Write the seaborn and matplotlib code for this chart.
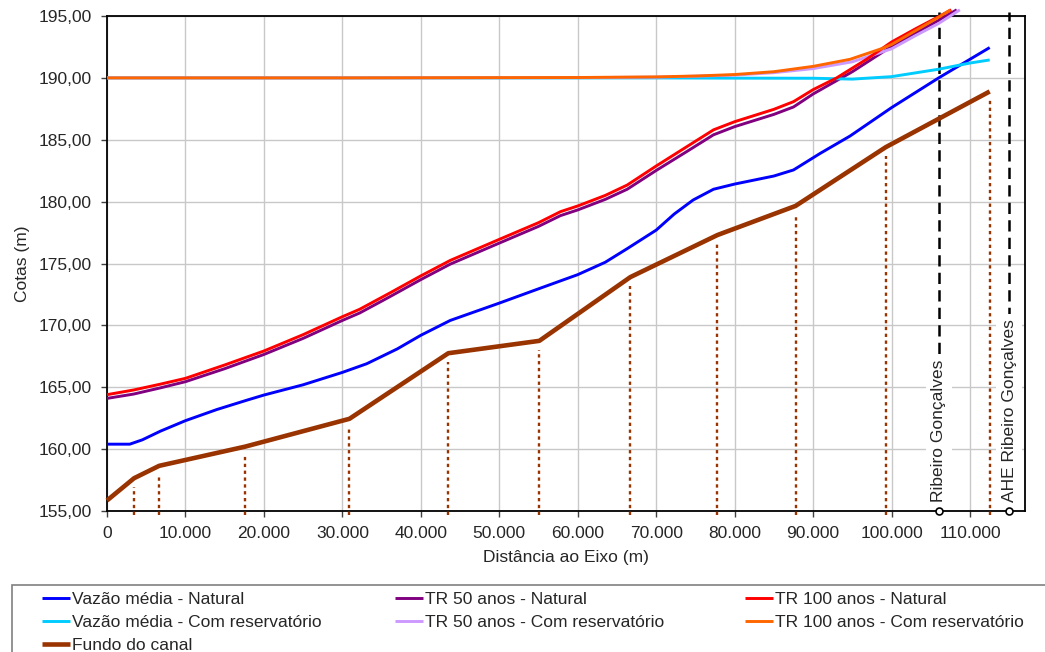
import matplotlib
matplotlib.use("Agg")
import matplotlib.pyplot as plt
import seaborn as sns
import numpy as np
import pandas as pd
from matplotlib.ticker import FuncFormatter, MultipleLocator
from matplotlib.patches import Rectangle

# ---------------- data ----------------
x_vazao_nat = [0, 2900, 4500, 6800, 10000, 14000, 17800, 20000, 25000, 30000, 33100, 37000,
               40000, 43750, 50000, 55200, 60000, 63500, 66300, 70000, 72300, 74700, 77300,
               80000, 85000, 87500, 90900, 94700, 100000, 106000, 112500]
y_vazao_nat = [160.4, 160.4, 160.75, 161.45, 162.3, 163.2, 163.95, 164.37, 165.2, 166.2, 166.9, 168.1,
               169.2, 170.4, 171.8, 173.0, 174.1, 175.1, 176.2, 177.7, 179.0, 180.13, 181.0,
               181.42, 182.07, 182.56, 183.9, 185.3, 187.6, 190.0, 192.45]

x_tr100_nat = [0, 3400, 6800, 10000, 15000, 20000, 25000, 30000, 32200, 36000, 40000, 43750,
               50000, 55000, 57800, 60000, 63500, 66300, 70000, 73900, 77300, 80000, 85000, 87500,
               90000, 93000, 96800, 100000, 103000, 106000, 107600]
y_tr100_nat = [164.4, 164.78, 165.25, 165.72, 166.8, 167.93, 169.25, 170.7, 171.3, 172.6, 174.0, 175.25,
               176.95, 178.3, 179.19, 179.65, 180.5, 181.34, 182.88, 184.44, 185.8, 186.46, 187.46, 188.08,
               189.05, 190.0, 191.5, 192.9, 193.95, 194.95, 195.5]

x_tr50_nat = [0, 3400, 6800, 10000, 15000, 20000, 25000, 30000, 32200, 36000, 40000, 43750,
              50000, 55000, 57800, 60000, 63500, 66300, 70000, 73900, 77300, 80000, 85000, 87500,
              90000, 95000, 100000, 103000, 106000, 108300]
y_tr50_nat = [164.1, 164.45, 164.95, 165.45, 166.5, 167.65, 168.95, 170.4, 171.0, 172.3, 173.7, 174.95,
              176.65, 178.0, 178.87, 179.33, 180.18, 181.0, 182.52, 184.05, 185.4, 186.06, 187.05, 187.65,
              188.7, 190.5, 192.55, 193.6, 194.65, 195.5]

x_vazao_res = [0, 30000, 60000, 70000, 80000, 90000, 95000, 100000, 106000, 110000, 112500]
y_vazao_res = [190.0, 190.0, 190.0, 190.0, 189.98, 189.97, 189.9, 190.1, 190.7, 191.2, 191.45]

x_tr50_res = [0, 30000, 60000, 70000, 80000, 85000, 90000, 95000, 100000, 103000, 106000, 108700]
y_tr50_res = [190.0, 190.0, 190.02, 190.06, 190.22, 190.42, 190.75, 191.3, 192.35, 193.4, 194.4, 195.5]

x_tr100_res = [0, 30000, 60000, 70000, 75000, 80000, 85000, 90000, 94700, 98900, 100000, 103000,
               106000, 107500]
y_tr100_res = [190.0, 190.0, 190.03, 190.08, 190.15, 190.27, 190.5, 190.93, 191.5, 192.4, 192.7, 193.8,
               194.9, 195.5]

x_fundo = [0, 3450, 6650, 17600, 30900, 43500, 55100, 66700, 77800, 87750, 99250, 112500]
y_fundo = [155.85, 157.65, 158.65, 160.2, 162.45, 167.75, 168.75, 173.9, 177.3, 179.65, 184.4, 188.9]

marker_x = [106000, 115000]
marker_labels = ["Ribeiro Gonçalves", "AHE Ribeiro Gonçalves"]

series_labels = ["Vazão média - Natural", "TR 50 anos - Natural", "TR 100 anos - Natural",
                 "Vazão média - Com reservatório", "TR 50 anos - Com reservatório",
                 "TR 100 anos - Com reservatório", "Fundo do canal"]
colors = ["#0000FF", "#800080", "#FF0000", "#00CCFF", "#CC99FF", "#FF6600", "#993300"]

# ---------------- style ----------------
sns.set_style("white")
plt.rcParams["font.family"] = ["Liberation Sans", "DejaVu Sans"]
FS = 12.5

fig = plt.figure(figsize=(10.45, 6.52), dpi=100)
ax = fig.add_axes([107 / 1045, 1 - 511 / 652, (1025 - 107) / 1045, (511 - 16) / 652])

xs = [x_vazao_nat, x_tr50_nat, x_tr100_nat, x_vazao_res, x_tr50_res, x_tr100_res, x_fundo]
ys = [y_vazao_nat, y_tr50_nat, y_tr100_nat, y_vazao_res, y_tr50_res, y_tr100_res, y_fundo]
widths = [2.1, 2.1, 2.1, 2.1, 2.1, 2.1, 3.3]
zorders = [4, 4, 4.2, 4, 4.1, 4.3, 5]

handles = []
for xv, yv, lab, c, w, z in zip(xs, ys, series_labels, colors, widths, zorders):
    df = pd.DataFrame({"x": xv, "y": yv})
    n0 = len(ax.lines)
    sns.lineplot(data=df, x="x", y="y", color=c, linewidth=w, ax=ax, sort=False,
                 estimator=None, label=lab, zorder=z)
    ln = ax.lines[n0]
    ln.set_clip_on(False)
    ln.set_solid_capstyle("butt")
    handles.append(ln)
if ax.get_legend() is not None:
    ax.get_legend().remove()

# dotted drop lines under the channel bottom points
for xf, yf in zip(x_fundo[1:], y_fundo[1:]):
    ax.vlines(xf, 154.7, yf - 0.7, colors="#993300", linestyles=(0, (1.4, 1.5)),
              linewidth=1.7, clip_on=False, zorder=3)

# vertical dashed reference lines
for mx, ml in zip(marker_x, marker_labels):
    ax.vlines(mx, 155.0, 195.35, colors="black", linestyles=(0, (4.5, 2.5)),
              linewidth=1.8, clip_on=False, zorder=3.5)
    ax.plot([mx], [155.0], marker="o", ms=5, mfc="white", mec="black", mew=1.2,
            clip_on=False, zorder=6)
    ax.text(mx, 155.7, ml, rotation=90, ha="center", va="bottom", fontsize=FS,
            zorder=3.6, bbox=dict(facecolor="white", edgecolor="none", pad=4))

ax.set_xlim(0, 117000)
ax.set_ylim(155, 195)
ax.xaxis.set_major_locator(MultipleLocator(10000))
ax.yaxis.set_major_locator(MultipleLocator(5))
ax.set_xticks(np.arange(0, 110001, 10000))
ax.xaxis.set_major_formatter(FuncFormatter(lambda v, p: f"{int(round(v)):,}".replace(",", ".")))
ax.yaxis.set_major_formatter(FuncFormatter(lambda v, p: f"{v:.2f}".replace(".", ",")))
ax.tick_params(axis="both", direction="out", length=4, width=1, color="#404040",
               labelsize=FS, pad=7, bottom=True, left=True)
ax.grid(True, color="#c8c8c8", linewidth=1.0, zorder=0)
ax.set_axisbelow(True)
for s in ax.spines.values():
    s.set_visible(True)
    s.set_color("black")
    s.set_linewidth(1.3)

ax.set_xlabel("Distância ao Eixo (m)", fontsize=FS, labelpad=6)
ax.set_ylabel("Cotas (m)", fontsize=FS, labelpad=6)

# legend frame
fig.patches.append(Rectangle((12 / 1045, -0.05), 1.1, 1 - 585 / 652 + 0.05,
                             transform=fig.transFigure, facecolor="white",
                             edgecolor="#808080", linewidth=1.2, zorder=0))

leg_cols = [[0, 3, 6], [1, 4], [2, 5]]
leg_x = [42, 395, 745]
for cols, lx in zip(leg_cols, leg_x):
    fig.legend([handles[i] for i in cols], [series_labels[i] for i in cols],
               loc="upper left", bbox_to_anchor=(lx / 1045, 1 - 592 / 652),
               frameon=False, fontsize=FS, handlelength=1.6, handletextpad=0.15,
               borderpad=0, borderaxespad=0, labelspacing=0.45)

fig.savefig("out.png", dpi=100)
